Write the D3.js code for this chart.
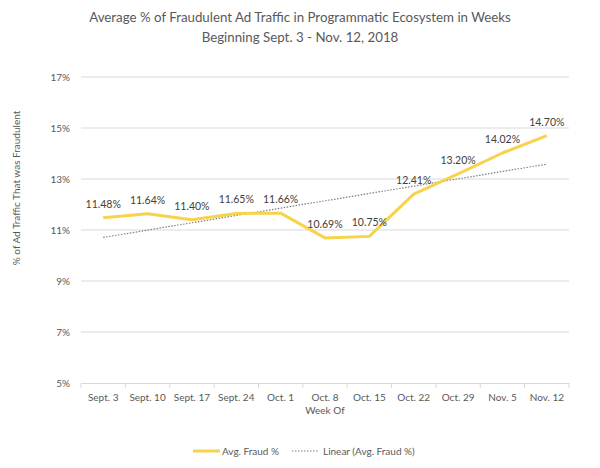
<!DOCTYPE html>
<html><head><meta charset="utf-8">
<script src="https://cdn.jsdelivr.net/npm/d3@7"></script>
<style>body{margin:0;background:#fff}svg{display:block}text{font-family:Lato,"Open Sans",sans-serif}</style>
</head><body><svg id="c" width="600" height="468"></svg>
<script>
const categories = ["Sept. 3","Sept. 10","Sept. 17","Sept. 24","Oct. 1","Oct. 8","Oct. 15","Oct. 22","Oct. 29","Nov. 5","Nov. 12"];
const fraudValues = [11.48,11.64,11.40,11.65,11.66,10.69,10.75,12.41,13.20,14.02,14.70];
const yTicks = [5,7,9,11,13,15,17];
const titleLines = ["Average % of Fraudulent Ad Traffic in Programmatic Ecosystem in Weeks","Beginning Sept. 3 - Nov. 12, 2018"];

const svg = d3.select("#c");
const x = d3.scaleBand().domain(categories).range([81,569]);
const y = d3.scaleLinear().domain([5,17]).range([383,77]);
const cx = d => x(d) + x.bandwidth()/2;

// title
svg.append("g").selectAll("text").data(titleLines).join("text")
  .attr("x",300).attr("y",(d,i)=>22+i*20).attr("text-anchor","middle")
  .attr("font-size",13.3).attr("fill","#595959").text(d=>d);

// grid
svg.append("g").selectAll("line").data(yTicks.filter(t=>t>5)).join("line")
  .attr("x1",81).attr("x2",569).attr("y1",d=>y(d)).attr("y2",d=>y(d))
  .attr("stroke","#d9d9d9").attr("stroke-width",1);

// y axis
const ya = svg.append("g").attr("transform","translate(81,0)")
  .call(d3.axisLeft(y).tickValues(yTicks).tickSize(0).tickPadding(11).tickFormat(d=>d+"%"));
ya.select(".domain").remove();
ya.selectAll("text").attr("font-size",10).attr("fill","#595959").attr("font-family","Lato,sans-serif");

// x axis
const xa = svg.append("g").attr("transform","translate(0,383)")
  .call(d3.axisBottom(x).tickSize(0).tickPadding(11));
xa.select(".domain").attr("stroke","#d9d9d9");
xa.selectAll("text").attr("font-size",10).attr("fill","#595959").attr("font-family","Lato,sans-serif");
svg.append("g").selectAll("line").data(categories.concat([null])).join("line")
  .attr("x1",(d,i)=>81+i*x.step()).attr("x2",(d,i)=>81+i*x.step())
  .attr("y1",383).attr("y2",388).attr("stroke","#d9d9d9");

// axis titles
svg.append("text").attr("x",325).attr("y",414).attr("text-anchor","middle")
  .attr("font-size",10).attr("fill","#595959").text("Week Of");
svg.append("text").attr("transform","translate(20,188) rotate(-90)").attr("text-anchor","middle")
  .attr("font-size",10).attr("fill","#595959").text("% of Ad Traffic That was Fraudulent");

// trendline (least squares from data)
const n = fraudValues.length;
const xs = d3.range(1,n+1);
const mx = d3.mean(xs), my = d3.mean(fraudValues);
const slope = d3.sum(xs.map((v,i)=>(v-mx)*(fraudValues[i]-my))) / d3.sum(xs.map(v=>(v-mx)**2));
const icpt = my - slope*mx;
svg.append("line")
  .attr("x1",cx(categories[0])).attr("y1",y(icpt+slope*1))
  .attr("x2",cx(categories[n-1])).attr("y2",y(icpt+slope*n))
  .attr("stroke","#7f7f7f").attr("stroke-width",1.2).attr("stroke-dasharray","1.5,1.5");

// main line
const line = d3.line().x((d,i)=>cx(categories[i])).y(d=>y(d));
svg.append("path").datum(fraudValues).attr("d",line)
  .attr("fill","none").attr("stroke","#F7D34B").attr("stroke-width",3).attr("stroke-linejoin","round");

// data labels
svg.append("g").selectAll("text").data(fraudValues).join("text")
  .attr("x",(d,i)=>cx(categories[i])).attr("y",d=>y(d)-10)
  .attr("text-anchor","middle").attr("font-size",10.5).attr("fill","#404040")
  .text(d=>d.toFixed(2)+"%");

// legend
const lg = svg.append("g");
lg.append("line").attr("x1",193).attr("x2",220).attr("y1",451).attr("y2",451)
  .attr("stroke","#F7D34B").attr("stroke-width",3);
lg.append("text").attr("x",222).attr("y",455).attr("font-size",10).attr("fill","#595959").text("Avg. Fraud %");
lg.append("line").attr("x1",292).attr("x2",318).attr("y1",451).attr("y2",451)
  .attr("stroke","#7f7f7f").attr("stroke-width",1.2).attr("stroke-dasharray","1.5,1.5");
lg.append("text").attr("x",323).attr("y",455).attr("font-size",10).attr("fill","#595959").text("Linear (Avg. Fraud %)");
</script></body></html>
